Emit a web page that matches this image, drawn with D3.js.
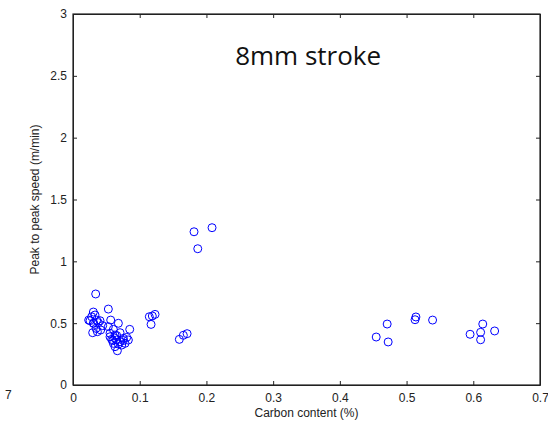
<!DOCTYPE html>
<html>
<head>
<meta charset="utf-8">
<script src="https://cdn.jsdelivr.net/npm/d3@7"></script>
<style>
  body { margin: 0; background: #fff; }
  svg { display: block; }
  .tick text { font-family: "Liberation Sans", Arial, sans-serif; font-size: 12px; fill: #222; }
</style>
</head>
<body>
<svg id="chart"></svg>
<script>
// carbon content (%) and peak to peak speed (m/min)
const carbon = [
  0.034, 0.053, 0.0305, 0.0235, 0.028, 0.033, 0.0355, 0.0305, 0.038, 0.0405,
  0.0295, 0.0365, 0.0415, 0.0345, 0.0565, 0.068, 0.053, 0.0605, 0.085, 0.0555,
  0.063, 0.0705, 0.0755, 0.0805, 0.058, 0.0655, 0.0605, 0.068, 0.063, 0.073,
  0.078, 0.0665, 0.0555, 0.0595, 0.0705, 0.0755, 0.083, 0.0255, 0.031, 0.0445,
  0.0625, 0.0655,
  0.1144, 0.1189, 0.123, 0.117,
  0.1594, 0.1654, 0.171,
  0.1814, 0.2084, 0.187,
  0.4545, 0.4709, 0.4724, 0.5127, 0.514, 0.539,
  0.5952, 0.6142, 0.611, 0.611, 0.632
];
const speed = [
  0.736, 0.614, 0.59, 0.525, 0.552, 0.566, 0.525, 0.499, 0.504, 0.52,
  0.423, 0.431, 0.445, 0.458, 0.525, 0.499, 0.472, 0.45, 0.45, 0.418,
  0.404, 0.423, 0.377, 0.385, 0.369, 0.364, 0.337, 0.331, 0.31, 0.323,
  0.337, 0.277, 0.39, 0.358, 0.35, 0.36, 0.364, 0.52, 0.5, 0.48,
  0.38, 0.4,
  0.552, 0.558, 0.571, 0.49,
  0.369, 0.402, 0.415,
  1.239, 1.272, 1.102,
  0.388, 0.493, 0.348, 0.528, 0.55, 0.525,
  0.41, 0.493, 0.426, 0.366, 0.437
];
const xTicks = [0, 0.1, 0.2, 0.3, 0.4, 0.5, 0.6, 0.7];
const yTicks = [0, 0.5, 1, 1.5, 2, 2.5, 3];

const width = 548, height = 425;
const margin = { top: 14, right: 8, bottom: 40, left: 73 };
const w = width - margin.left - margin.right;
const h = height - margin.top - margin.bottom;

const svg = d3.select("#chart").attr("width", width).attr("height", height);
const g = svg.append("g").attr("transform", "translate(" + margin.left + "," + margin.top + ")");

const x = d3.scaleLinear().domain([0, 0.7]).range([0, w]);
const y = d3.scaleLinear().domain([0, 3]).range([h, 0]);

const fmt = d => String(d);

// axes, ticks pointing inward like matlab
g.append("g").attr("transform", "translate(0," + h + ")")
  .call(d3.axisBottom(x).tickValues(xTicks).tickFormat(fmt).tickSizeInner(-4).tickSizeOuter(0).tickPadding(8));
g.append("g")
  .call(d3.axisLeft(y).tickValues(yTicks).tickFormat(fmt).tickSizeInner(-4).tickSizeOuter(0).tickPadding(6));
g.append("g")
  .call(d3.axisTop(x).tickValues(xTicks).tickFormat("").tickSizeInner(-4).tickSizeOuter(0));
g.append("g").attr("transform", "translate(" + w + ",0)")
  .call(d3.axisRight(y).tickValues(yTicks).tickFormat("").tickSizeInner(-4).tickSizeOuter(0));

g.selectAll(".domain").attr("stroke", "#222");
g.selectAll(".tick line").attr("stroke", "#222");

g.append("rect")
  .attr("x", 0).attr("y", 0).attr("width", w).attr("height", h)
  .attr("fill", "none").attr("stroke", "#222").attr("stroke-width", 1.2);

// points
g.append("g").selectAll("circle")
  .data(carbon)
  .enter()
  .append("circle")
  .attr("cx", d => x(d))
  .attr("cy", (d, i) => y(speed[i]))
  .attr("r", 4)
  .attr("fill", "none")
  .attr("stroke", "#0000ff")
  .attr("stroke-width", 1);

// title inside axes
g.append("text")
  .attr("x", x(0.3) + 35)
  .attr("y", 51)
  .attr("text-anchor", "middle")
  .attr("font-family", "'Open Sans', 'Noto Sans', sans-serif")
  .attr("font-size", 26)
  .attr("fill", "#111")
  .text("8mm stroke");

// axis labels
svg.append("text")
  .attr("x", margin.left + w / 2)
  .attr("y", 417)
  .attr("text-anchor", "middle")
  .attr("font-family", "'Liberation Sans', Arial, sans-serif")
  .attr("font-size", 12)
  .attr("fill", "#222")
  .text("Carbon content (%)");

svg.append("text")
  .attr("transform", "translate(39," + (margin.top + h / 2) + ") rotate(-90)")
  .attr("text-anchor", "middle")
  .attr("font-family", "'Liberation Sans', Arial, sans-serif")
  .attr("font-size", 12)
  .attr("fill", "#222")
  .text("Peak to peak speed (m/min)");

// stray label left over at the left edge
svg.append("text")
  .attr("x", 5).attr("y", 399)
  .attr("font-family", "'Liberation Sans', Arial, sans-serif")
  .attr("font-size", 12)
  .attr("fill", "#222")
  .text("7");
</script>
</body>
</html>
